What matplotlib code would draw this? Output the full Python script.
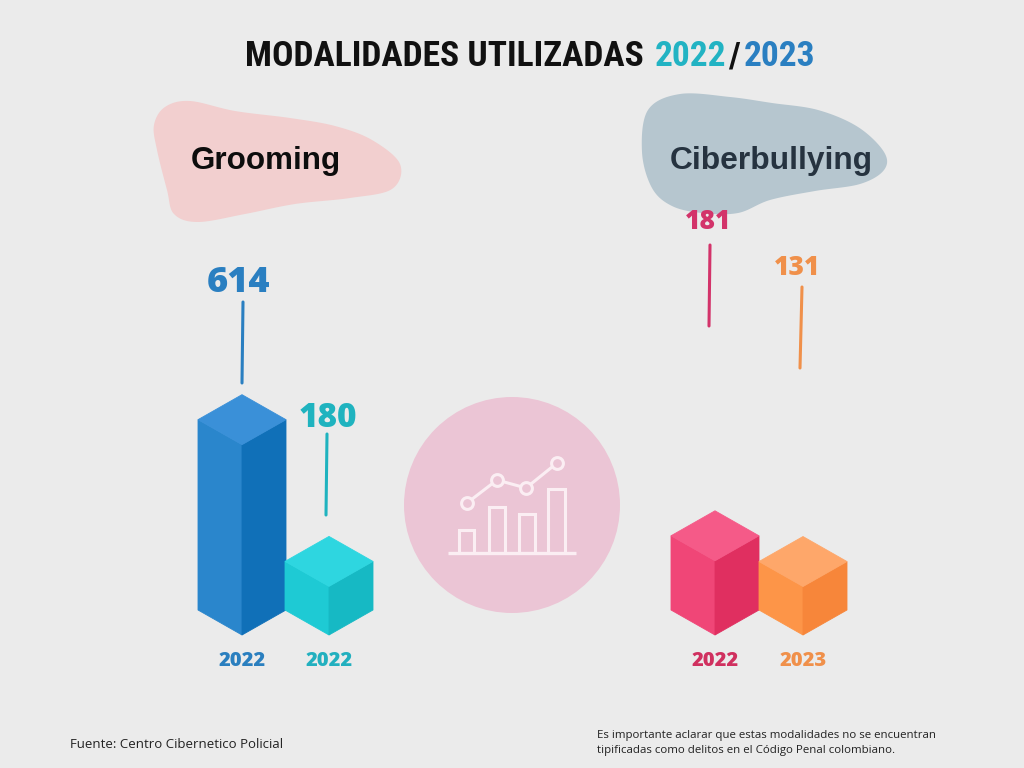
import numpy as np
import matplotlib
matplotlib.use('Agg')
import matplotlib.pyplot as plt
from matplotlib import font_manager
from matplotlib.patches import Polygon, Circle, Rectangle

# ---------------- data ----------------
categories = ['Grooming', 'Ciberbullying']
grooming_years = ['2022', '2022']
grooming_values = [614, 180]
ciber_years = ['2022', '2023']
ciber_values = [181, 131]
title_parts = ['MODALIDADES UTILIZADAS', '2022', '/', '2023']
source_text = 'Fuente: Centro Cibernetico Policial'
note_text = ('Es importante aclarar que estas modalidades no se encuentran\n'
             'tipificadas como delitos en el Código Penal colombiano.')

# ---------------- fonts ----------------
avail = {f.name for f in font_manager.fontManager.ttflist}
title_font = next((f for f in ['Liberation Sans Narrow', 'DejaVu Sans Condensed',
                               'Roboto Condensed', 'Open Sans Condensed']
                   if f in avail), 'DejaVu Sans')
num_font = 'Open Sans' if 'Open Sans' in avail else 'DejaVu Sans'
head_font = 'Liberation Sans' if 'Liberation Sans' in avail else 'DejaVu Sans'

W, H = 1024, 768
BG = '#ebebeb'
fig = plt.figure(figsize=(10.24, 7.68), dpi=100)
fig.patch.set_facecolor(BG)
ax = fig.add_axes([0, 0, 1, 1])
ax.set_xlim(0, W)
ax.set_ylim(H, 0)
ax.axis('off')
renderer = fig.canvas.get_renderer()


def smooth_closed(pts, n=24):
    P = np.array(pts, float)
    N = len(P)
    out = []
    t = np.linspace(0, 1, n, endpoint=False)[:, None]
    for i in range(N):
        p0, p1, p2, p3 = P[i - 1], P[i], P[(i + 1) % N], P[(i + 2) % N]
        out.append(0.5 * ((2 * p1) + (-p0 + p2) * t
                          + (2 * p0 - 5 * p1 + 4 * p2 - p3) * t ** 2
                          + (-p0 + 3 * p1 - 3 * p2 + p3) * t ** 3))
    return np.vstack(out)


def cube(cx, yb, w, d, h, cl, cr, ct):
    bl = (cx - w, yb - d); bc = (cx, yb); br = (cx + w, yb - d)
    tl = (cx - w, yb - d - h); tc = (cx, yb - h); tr = (cx + w, yb - d - h)
    tb = (cx, yb - 2 * d - h)
    for poly, c in [([tl, tc, bc, bl], cl), ([tc, tr, br, bc], cr), ([tl, tb, tr, tc], ct)]:
        ax.add_patch(Polygon(poly, closed=True, fc=c, ec=c, lw=0.6, zorder=3))


# ---------------- title ----------------
title_colors = ['#111111', '#22b3c3', '#111111', '#2a7fc1']
title_gaps = [11, 2, 4, 0]


def place_title(size):
    texts = []
    x = 245
    for p, c, g in zip(title_parts, title_colors, title_gaps):
        t = ax.text(x, 57, p, color=c, fontsize=size, family=[title_font, 'DejaVu Sans'],
                    weight='bold', ha='left', va='center', zorder=5)
        bb = t.get_window_extent(renderer)
        x += bb.width + g
        texts.append(t)
    return texts, x - 245


texts, total = place_title(30)
for t in texts:
    t.remove()
place_title(30 * 568 / total)

# ---------------- blobs ----------------
groom_blob = [(157, 150), (154, 125), (165, 107), (190, 101), (235, 111), (290, 118),
              (335, 126), (372, 140), (400, 164), (392, 189), (350, 198), (295, 204),
              (245, 214), (198, 222), (174, 214), (167, 190)]
ciber_blob = [(648, 110), (680, 94), (730, 97), (772, 103), (818, 110), (858, 127),
              (884, 152), (884, 170), (860, 184), (815, 191), (770, 200), (738, 213),
              (702, 213), (672, 206), (652, 188), (642, 152)]
ax.add_patch(Polygon(smooth_closed(groom_blob), closed=True, fc='#f2cfcf', ec='none', zorder=1))
ax.add_patch(Polygon(smooth_closed(ciber_blob), closed=True, fc='#b6c6cf', ec='none', zorder=1))
ax.text(266, 161, categories[0], fontsize=22.6, family=head_font, weight='bold',
        color='#0d0d0d', ha='center', va='center', zorder=5)
ax.text(771, 161, categories[1], fontsize=22.9, family=head_font, weight='bold',
        color='#263340', ha='center', va='center', zorder=5)

# ---------------- center icon ----------------
ax.add_patch(Circle((512, 505), 108, fc='#ebc5d5', ec='none', zorder=1))
ic = '#fbeef3'
ax.plot([448, 576], [553, 553], color=ic, lw=2.4, solid_capstyle='butt', zorder=4)
for x0, x1, top in [(459, 474, 530), (489, 505, 507), (519, 535, 514), (548, 565, 489)]:
    ax.add_patch(Rectangle((x0, top), x1 - x0, 553 - top, fc='none', ec=ic, lw=2.2, zorder=4))
ax.plot([467, 497, 526, 557], [503, 480, 488, 463], color=ic, lw=2.2, marker='o',
        ms=8.5, mfc='#ebc5d5', mec=ic, mew=2.2, zorder=4)

# ---------------- cubes ----------------
groups = [
    dict(values=grooming_values, years=grooming_years, cx=[242, 329], scale=0.31,
         faces=[('#2a86cc', '#1070b8', '#3a90d8'), ('#1ecad4', '#16b9c4', '#2ed6e0')],
         colors=['#2a7fc1', '#1fb3bf'], label_pos=[(238, 283), (328, 418)],
         label_size=[26, 24],
         lines=[((243, 302), (242, 383)), ((327, 434), (326, 515))]),
    dict(values=ciber_values, years=ciber_years, cx=[715, 803], scale=0.41,
         faces=[('#f04677', '#e02f60', '#f55a88'), ('#fd9548', '#f7863a', '#fea76a')],
         colors=['#d3336a', '#f0904a'], label_pos=[(708, 222), (797, 268)],
         label_size=[19, 19],
         lines=[((710, 245), (709, 326)), ((802, 287), (800, 368))]),
]
group_heights_scale_small = [0.27, 0.37]
year_colors = [['#2a7fbf', '#22b0bf'], ['#d0305f', '#f0904a']]

for gi, (g, yc) in enumerate(zip(groups, year_colors)):
    for i, v in enumerate(g['values']):
        cl, cr, ct = g['faces'][i]
        s = g['scale'] if i == 0 else group_heights_scale_small[gi]
        cube(g['cx'][i], 635, 44, 25, v * s, cl, cr, ct)
        lx, ly = g['label_pos'][i]
        ax.text(lx, ly, str(v), fontsize=g['label_size'][i], family=num_font, weight='heavy',
                color=g['colors'][i], ha='center', va='center', zorder=5)
        (x0, y0), (x1, y1) = g['lines'][i]
        ax.plot([x0, x1], [y0, y1], color=g['colors'][i], lw=2.2, solid_capstyle='round', zorder=4)
        ax.text(g['cx'][i], 661, g['years'][i], fontsize=14.5, family=num_font, weight='heavy',
                color=yc[i], ha='center', va='center', zorder=5)

# ---------------- footer ----------------
ax.text(70, 745, source_text, fontsize=9.5, family=num_font, color='#222222',
        ha='left', va='center', zorder=5)
ax.text(597, 743, note_text, fontsize=8.25, family=num_font, color='#222222',
        ha='left', va='center', linespacing=1.45, zorder=5)

fig.savefig('out.png', dpi=100, facecolor=BG)
